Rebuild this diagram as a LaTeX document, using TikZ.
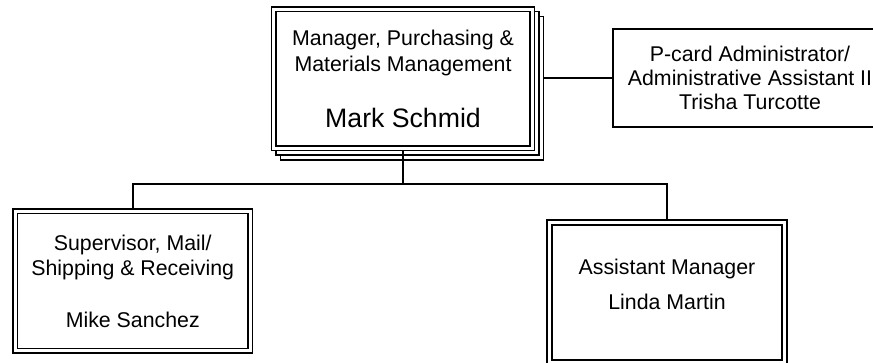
\documentclass[tikz,border=0pt]{standalone}
\usepackage{fontspec}
\setmainfont{Liberation Sans}

\tikzset{
  txt/.style={font=\fontsize{16}{18}\selectfont, align=center},
  post/.style={draw, double, line width=1.4pt, double distance=2pt,
               fill=white, inner sep=0pt, txt},
  stackcopy/.style={draw, line width=1.1pt, fill=white, inner sep=0pt,
               minimum width=197.25pt, minimum height=107.6pt},
  aide/.style={draw, line width=1.5pt, inner sep=0pt, txt},
  link/.style={line width=1.4pt}
}

\begin{document}
\begin{tikzpicture}[
            x = 0.75pt, y = -0.75pt, % one unit per pixel, y downwards
            semithick
        ]
\useasboundingbox (0,0) rectangle (873,363);
\clip (0,0) rectangle (873,363);

% stacked copies behind the manager
\node[stackcopy] (back2) at (412,88.25) {};
\node[stackcopy] (back1) at (407.5,83.5) {};

\node[post, minimum width=193.9pt, minimum height=104.25pt] (boss) at (403,78.75)
  {Manager, Purchasing \&\\[1.5pt]Materials Management\\[24pt]{\fontsize{20}{24}\selectfont Mark Schmid}};
\node[aide, minimum width=205.5pt, minimum height=73.5pt] (pcard) at (750,78)
  {P-card Administrator/\\Administrative Assistant II\\Trisha Turcotte};

\node[post, minimum width=176.25pt, minimum height=104.6pt] (mail) at (132.75,281)
  {Supervisor, Mail/\\[0.75pt]Shipping \& Receiving\\[21pt]Mike Sanchez};
\node[post, minimum width=176.25pt, minimum height=105pt] (asst) at (667,292.5)
  {Assistant Manager\\[8.25pt]Linda Martin\rule[-13pt]{0pt}{13pt}};

\coordinate (bus) at (403,184.3);

 \draw[link, shorten <=1.7pt] (boss.south) -- (bus);
 \draw[link, shorten <=1.7pt, shorten >=1.7pt] (mail.north) |- (bus) -| (asst.north);
 \draw[link] (back2.east |- pcard.west) -- (pcard.west);

\end{tikzpicture}
\end{document}
